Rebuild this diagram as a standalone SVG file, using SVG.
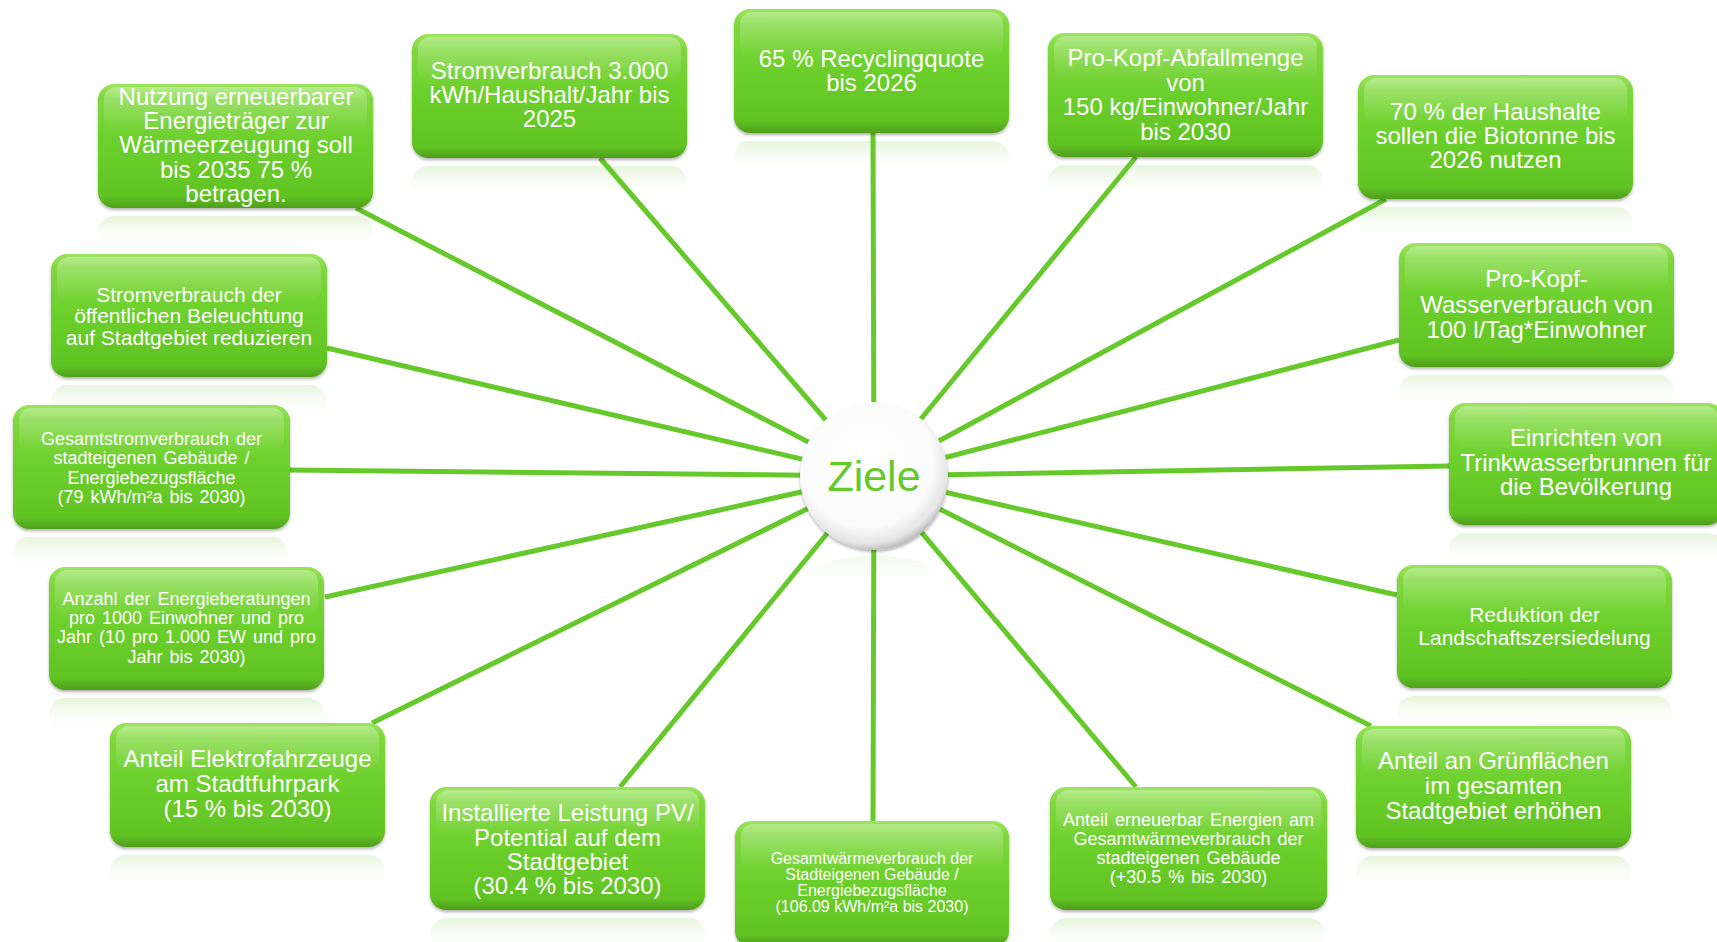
<svg xmlns="http://www.w3.org/2000/svg" width="1717" height="942" viewBox="0 0 1717 942">
<defs>
 <linearGradient id="boxFill" x1="0" y1="0" x2="0" y2="1">
  <stop offset="0" stop-color="#9CE45E"/>
  <stop offset="0.12" stop-color="#7ED83D"/>
  <stop offset="0.5" stop-color="#6BCF2B"/>
  <stop offset="0.9" stop-color="#61C323"/>
  <stop offset="1" stop-color="#4F9F1C"/>
 </linearGradient>
 <linearGradient id="gloss" x1="0" y1="0" x2="0" y2="1">
  <stop offset="0" stop-color="#ffffff" stop-opacity="0.3"/>
  <stop offset="1" stop-color="#ffffff" stop-opacity="0"/>
 </linearGradient>
 <linearGradient id="refl" x1="0" y1="0" x2="0" y2="1">
  <stop offset="0" stop-color="#D3EEC2" stop-opacity="0.6"/>
  <stop offset="1" stop-color="#ffffff" stop-opacity="0"/>
 </linearGradient>
 <radialGradient id="circFill" cx="0.45" cy="0.4" r="0.62">
  <stop offset="0" stop-color="#ffffff"/>
  <stop offset="0.72" stop-color="#fbfbfb"/>
  <stop offset="0.9" stop-color="#e4e4e4"/>
  <stop offset="1" stop-color="#b0b0b0"/>
 </radialGradient>
 <filter id="shadow" x="-10%" y="-10%" width="120%" height="130%">
  <feDropShadow dx="0" dy="2" stdDeviation="1.5" flood-color="#000000" flood-opacity="0.3"/>
 </filter>
 <style>
  .b { fill:url(#boxFill); filter:url(#shadow); }
  .g { fill:url(#gloss); }
  .r { fill:url(#refl); }
  .t { font-family:"Liberation Sans", Arial, sans-serif; fill:#ffffff; text-anchor:middle; }
  .f24 { font-size:24px; }
  .f21 { font-size:21px; }
  .f18 { font-size:18px; word-spacing:2px; }
  .f16 { font-size:16px; }
  .conn line { stroke:#66C92B; stroke-width:5; }
 </style>
</defs>
<rect width="1717" height="942" fill="#ffffff"/>

<g id="reflections">
 <rect class="r" x="98" y="216" width="275" height="34" rx="16"/>
 <rect class="r" x="412" y="166" width="275" height="34" rx="16"/>
 <rect class="r" x="734" y="141" width="275" height="34" rx="16"/>
 <rect class="r" x="1048" y="165" width="275" height="34" rx="16"/>
 <rect class="r" x="1358" y="207" width="275" height="34" rx="16"/>
 <rect class="r" x="1399" y="375" width="275" height="34" rx="16"/>
 <rect class="r" x="1449" y="533" width="275" height="34" rx="16"/>
 <rect class="r" x="1397" y="696" width="275" height="34" rx="16"/>
 <rect class="r" x="1356" y="856" width="275" height="34" rx="16"/>
 <rect class="r" x="1050" y="918" width="275" height="34" rx="16"/>
 <rect class="r" x="430" y="918" width="275" height="34" rx="16"/>
 <rect class="r" x="110" y="855" width="275" height="34" rx="16"/>
 <rect class="r" x="49" y="698" width="275" height="34" rx="16"/>
 <rect class="r" x="13" y="537" width="275" height="34" rx="16"/>
 <rect class="r" x="51" y="385" width="275" height="34" rx="16"/>
 <ellipse cx="874" cy="572" rx="60" ry="16" fill="url(#refl)" opacity="0.5"/>
</g>

<g class="conn" id="connectors">
 <line x1="874" y1="476" x2="356" y2="208"/>
 <line x1="874" y1="476" x2="600" y2="158"/>
 <line x1="874" y1="476" x2="873" y2="133"/>
 <line x1="874" y1="476" x2="1136" y2="157"/>
 <line x1="874" y1="476" x2="1386" y2="199"/>
 <line x1="874" y1="476" x2="1399" y2="340"/>
 <line x1="874" y1="476" x2="1449" y2="466"/>
 <line x1="874" y1="476" x2="1397" y2="595"/>
 <line x1="874" y1="476" x2="1371" y2="726"/>
 <line x1="874" y1="476" x2="1136" y2="787"/>
 <line x1="874" y1="476" x2="873" y2="821"/>
 <line x1="874" y1="476" x2="620" y2="787"/>
 <line x1="874" y1="476" x2="372" y2="723"/>
 <line x1="874" y1="476" x2="325" y2="597"/>
 <line x1="874" y1="476" x2="290" y2="470"/>
 <line x1="874" y1="476" x2="327" y2="348"/>
</g>

<g id="n-nutzung">
 <rect class="b" x="98" y="84" width="275" height="124" rx="16"/>
 <rect class="g" x="104" y="87" width="263" height="45" rx="12"/>
 <text class="t f24" x="236"><tspan x="236" y="105">Nutzung erneuerbarer</tspan><tspan x="236" y="129">Energieträger zur</tspan><tspan x="236" y="153">Wärmeerzeugung soll</tspan><tspan x="236" y="178">bis 2035 75 %</tspan><tspan x="236" y="202">betragen.</tspan></text>
</g>

<g id="n-strom3000">
 <rect class="b" x="412" y="34" width="275" height="124" rx="16"/>
 <rect class="g" x="418" y="37" width="263" height="45" rx="12"/>
 <text class="t f24"><tspan x="549.5" y="79">Stromverbrauch 3.000</tspan><tspan x="549.5" y="103">kWh/Haushalt/Jahr bis</tspan><tspan x="549.5" y="127">2025</tspan></text>
</g>

<g id="n-recycling">
 <rect class="b" x="734" y="9" width="275" height="124" rx="16"/>
 <rect class="g" x="740" y="12" width="263" height="45" rx="12"/>
 <text class="t f24"><tspan x="871.5" y="67">65 % Recyclingquote</tspan><tspan x="871.5" y="91">bis 2026</tspan></text>
</g>

<g id="n-abfall">
 <rect class="b" x="1048" y="33" width="275" height="124" rx="16"/>
 <rect class="g" x="1054" y="36" width="263" height="45" rx="12"/>
 <text class="t f24"><tspan x="1185.5" y="66">Pro-Kopf-Abfallmenge</tspan><tspan x="1185.5" y="91">von</tspan><tspan x="1185.5" y="115">150 kg/Einwohner/Jahr</tspan><tspan x="1185.5" y="140">bis 2030</tspan></text>
</g>

<g id="n-biotonne">
 <rect class="b" x="1358" y="75" width="275" height="124" rx="16"/>
 <rect class="g" x="1364" y="78" width="263" height="45" rx="12"/>
 <text class="t f24"><tspan x="1495.5" y="120">70 % der Haushalte</tspan><tspan x="1495.5" y="144">sollen die Biotonne bis</tspan><tspan x="1495.5" y="168">2026 nutzen</tspan></text>
</g>

<g id="n-wasser">
 <rect class="b" x="1399" y="243" width="275" height="124" rx="16"/>
 <rect class="g" x="1405" y="246" width="263" height="45" rx="12"/>
 <text class="t f24"><tspan x="1536.5" y="287">Pro-Kopf-</tspan><tspan x="1536.5" y="313">Wasserverbrauch von</tspan><tspan x="1536.5" y="338">100 l/Tag*Einwohner</tspan></text>
</g>

<g id="n-trinkwasser">
 <rect class="b" x="1449" y="403" width="275" height="122" rx="16"/>
 <rect class="g" x="1455" y="406" width="263" height="45" rx="12"/>
 <text class="t f24"><tspan x="1586" y="446">Einrichten von</tspan><tspan x="1586" y="471">Trinkwasserbrunnen für</tspan><tspan x="1586" y="495">die Bevölkerung</tspan></text>
</g>

<g id="n-reduktion">
 <rect class="b" x="1397" y="565" width="275" height="123" rx="16"/>
 <rect class="g" x="1403" y="568" width="263" height="45" rx="12"/>
 <text class="t f21"><tspan x="1534.5" y="622">Reduktion der</tspan><tspan x="1534.5" y="645">Landschaftszersiedelung</tspan></text>
</g>

<g id="n-gruen">
 <rect class="b" x="1356" y="726" width="275" height="122" rx="16"/>
 <rect class="g" x="1362" y="729" width="263" height="45" rx="12"/>
 <text class="t f24"><tspan x="1493.5" y="769">Anteil an Grünflächen</tspan><tspan x="1493.5" y="794">im gesamten</tspan><tspan x="1493.5" y="819">Stadtgebiet erhöhen</tspan></text>
</g>

<g id="n-erneuerbar">
 <rect class="b" x="1050" y="787" width="277" height="123" rx="16"/>
 <rect class="g" x="1056" y="790" width="265" height="45" rx="12"/>
 <text class="t f18"><tspan x="1188.5" y="826">Anteil erneuerbar Energien am</tspan><tspan x="1188.5" y="845">Gesamtwärmeverbrauch der</tspan><tspan x="1188.5" y="864">stadteigenen Gebäude</tspan><tspan x="1188.5" y="883">(+30.5 % bis 2030)</tspan></text>
</g>

<g id="n-waerme">
 <rect class="b" x="735" y="821" width="274" height="126" rx="16"/>
 <rect class="g" x="741" y="824" width="262" height="45" rx="12"/>
 <text class="t f16"><tspan x="872" y="864">Gesamtwärmeverbrauch der</tspan><tspan x="872" y="880">Stadteigenen Gebäude /</tspan><tspan x="872" y="896">Energiebezugsfläche</tspan><tspan x="872" y="912">(106.09 kWh/m²a bis 2030)</tspan></text>
</g>

<g id="n-pv">
 <rect class="b" x="430" y="787" width="275" height="123" rx="16"/>
 <rect class="g" x="436" y="790" width="263" height="45" rx="12"/>
 <text class="t f24"><tspan x="567.5" y="821">Installierte Leistung PV/</tspan><tspan x="567.5" y="846">Potential auf dem</tspan><tspan x="567.5" y="870">Stadtgebiet</tspan><tspan x="567.5" y="894">(30.4 % bis 2030)</tspan></text>
</g>

<g id="n-elektro">
 <rect class="b" x="110" y="723" width="275" height="124" rx="16"/>
 <rect class="g" x="116" y="726" width="263" height="45" rx="12"/>
 <text class="t f24"><tspan x="247.5" y="767">Anteil Elektrofahrzeuge</tspan><tspan x="247.5" y="792">am Stadtfuhrpark</tspan><tspan x="247.5" y="817">(15 % bis 2030)</tspan></text>
</g>

<g id="n-beratung">
 <rect class="b" x="49" y="567" width="275" height="123" rx="16"/>
 <rect class="g" x="55" y="570" width="263" height="45" rx="12"/>
 <text class="t f18"><tspan x="186.5" y="605">Anzahl der Energieberatungen</tspan><tspan x="186.5" y="624">pro 1000 Einwohner und pro</tspan><tspan x="186.5" y="643">Jahr (10 pro 1.000 EW und pro</tspan><tspan x="186.5" y="663">Jahr bis 2030)</tspan></text>
</g>

<g id="n-gesamtstrom">
 <rect class="b" x="13" y="405" width="277" height="124" rx="16"/>
 <rect class="g" x="19" y="408" width="265" height="45" rx="12"/>
 <text class="t f18"><tspan x="151.5" y="445">Gesamtstromverbrauch der</tspan><tspan x="151.5" y="464">stadteigenen Gebäude /</tspan><tspan x="151.5" y="484">Energiebezugsfläche</tspan><tspan x="151.5" y="503">(79 kWh/m²a bis 2030)</tspan></text>
</g>

<g id="n-beleuchtung">
 <rect class="b" x="51" y="254" width="276" height="123" rx="16"/>
 <rect class="g" x="57" y="257" width="264" height="45" rx="12"/>
 <text class="t f21"><tspan x="189" y="302">Stromverbrauch der</tspan><tspan x="189" y="323">öffentlichen Beleuchtung</tspan><tspan x="189" y="345">auf Stadtgebiet reduzieren</tspan></text>
</g>

<g id="n-ziele">
 <circle cx="874" cy="476" r="74" fill="url(#circFill)" filter="url(#shadow)"/>
 <text x="874" y="491" font-family="Liberation Sans, Arial, sans-serif" font-size="43" fill="#66C92B" text-anchor="middle">Ziele</text>
</g>
</svg>
